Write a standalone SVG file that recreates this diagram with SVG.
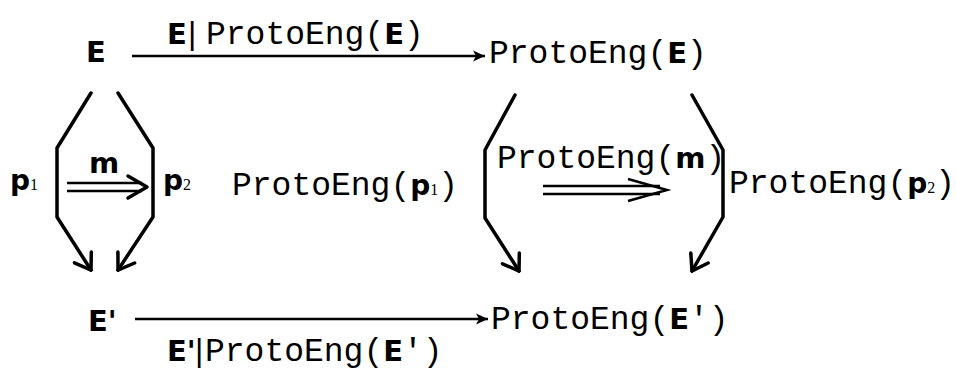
<svg xmlns="http://www.w3.org/2000/svg" width="956" height="377" viewBox="0 0 956 377">
<defs>
<style>
.m{font-family:"Liberation Mono","Courier New",monospace;font-size:33px;fill:#000}
.b{font-family:"DejaVu Sans","Liberation Sans",sans-serif;font-weight:bold;font-size:29px;fill:#000}
.p{font-family:"DejaVu Sans","Liberation Sans",sans-serif;font-weight:bold;font-size:28px;fill:#000}
.s{font-family:"Liberation Serif",serif;font-size:16px;fill:#000}
.bar{font-family:"Liberation Sans",sans-serif;font-size:32px;fill:#000}
.ln{fill:none;stroke:#000;stroke-width:3.5;stroke-linejoin:round;stroke-linecap:round}
.th{fill:none;stroke:#000;stroke-width:2.5}
</style>
<marker id="solid" viewBox="0 0 14 12" refX="13" refY="6" markerWidth="14" markerHeight="12" markerUnits="userSpaceOnUse" orient="auto">
<path d="M1,0.5 L13,6 L1,11.5 L4,6 Z" fill="#000"/>
</marker>
<marker id="open" viewBox="0 0 20 24" refX="18" refY="12" markerWidth="20" markerHeight="24" markerUnits="userSpaceOnUse" orient="auto">
<path d="M3,2 L18,12 L3,22" fill="none" stroke="#000" stroke-width="3.5" stroke-linecap="round" stroke-linejoin="miter"/>
</marker>
</defs>
<rect width="956" height="377" fill="#fff"/>

<g id="node-E"><text class="b" x="86" y="62">E</text></g>
<g id="node-PE"><text x="489" y="63"><tspan class="m">ProtoEng(</tspan><tspan class="b">E</tspan><tspan class="m">)</tspan></text></g>
<g id="node-E2"><text x="88" y="331"><tspan class="b">E</tspan><tspan class="b">'</tspan></text></g>
<g id="node-PE2"><text x="491" y="329"><tspan class="m">ProtoEng(</tspan><tspan class="b">E</tspan><tspan class="m">')</tspan></text></g>

<g id="connectors">
<line class="th" x1="132" y1="56" x2="485" y2="56" marker-end="url(#solid)"/>
<line class="th" x1="135" y1="319" x2="488" y2="319" marker-end="url(#solid)"/>
<polyline class="ln" points="91,93 57,148 57,217 91,270" marker-end="url(#open)"/>
<polyline class="ln" points="118,93 153,148 153,217 118,270" marker-end="url(#open)"/>
<polyline class="ln" points="515,95 485,150 485,218 519,271" marker-end="url(#open)"/>
<polyline class="ln" points="692,95 723,150 723,217 692,271" marker-end="url(#open)"/>
<g id="dbl-left">
<line class="th" x1="67" y1="183" x2="142" y2="183"/>
<line class="th" x1="67" y1="191" x2="142" y2="191"/>
<path class="ln" d="M128,176 L147,187 L128,198"/>
</g>
<g id="dbl-right">
<line class="th" x1="543" y1="186" x2="660" y2="186"/>
<line class="th" x1="543" y1="194" x2="660" y2="194"/>
<path class="th" d="M628,179 L667,190 L628,201"/>
</g>
</g>

<g id="labels">
<text x="167" y="44"><tspan class="b">E</tspan><tspan class="bar" x="188">|</tspan><tspan class="m" x="206">ProtoEng(</tspan><tspan class="b">E</tspan><tspan class="m">)</tspan></text>
<text x="167" y="361"><tspan class="b">E</tspan><tspan class="b">'</tspan><tspan class="bar" x="195">|</tspan><tspan class="m" x="205" font-size="32">ProtoEng(</tspan><tspan class="b">E</tspan><tspan class="m" font-size="32">')</tspan></text>
<text x="10" y="190"><tspan class="p" font-size="31">p</tspan><tspan class="s" font-size="18">1</tspan></text>
<text x="163" y="190"><tspan class="p" font-size="31">p</tspan><tspan class="s" font-size="18">2</tspan></text>
<text class="b" x="89" y="173" font-size="19">m</text>
<text x="232" y="195"><tspan class="m">ProtoEng(</tspan><tspan class="p">p</tspan><tspan class="s">1</tspan><tspan class="m">)</tspan></text>
<text x="497" y="168"><tspan class="m">ProtoEng(</tspan><tspan class="b" font-size="19">m</tspan><tspan class="m">)</tspan></text>
<text x="729" y="193"><tspan class="m" font-size="32">ProtoEng(</tspan><tspan class="p">p</tspan><tspan class="s">2</tspan><tspan class="m" font-size="32">)</tspan></text>
</g>
</svg>
